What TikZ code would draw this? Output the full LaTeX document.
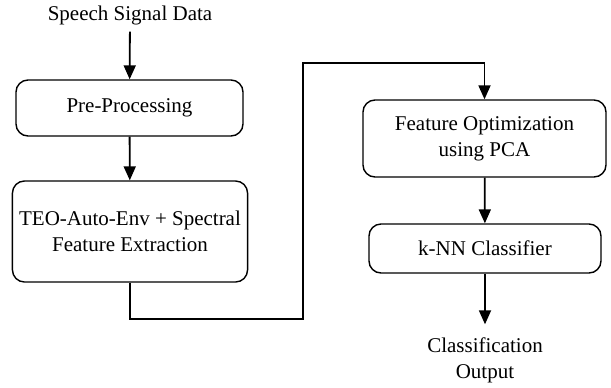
\documentclass[tikz,border=0pt]{standalone}
\usepackage{fontspec}
\setmainfont{Liberation Serif}
\usetikzlibrary{arrows.meta, positioning}

\begin{document}
\begin{tikzpicture}[x=0.5pt, y=-0.5pt,
        stepbox/.style={draw=black, line width=0.7pt, rounded corners=6pt, align=center, font=\fontsize{10.5}{13}\selectfont},
        plain/.style={align=center, font=\fontsize{10.5}{13}\selectfont},
        arr/.style={line width=0.9pt, -{Triangle[width=6pt, length=7pt]}}]
    \useasboundingbox (0, 0) rectangle (611, 387);

    \node[plain] (src) at (130, 15) {Speech Signal Data};
    \node[stepbox, minimum width=113.5pt, minimum height=28pt] (pre) at (129.5, 108) {Pre-Processing};
    \node[stepbox, minimum width=113pt, minimum height=50.5pt] (teo) at (130, 231.5) {TEO-Auto-Env + Spectral\\Feature Extraction};
    \node[stepbox, minimum width=121.5pt, minimum height=38.5pt] (fopt) at (484.5, 138.5) {Feature Optimization\\using PCA};
    \node[stepbox, minimum width=116pt, minimum height=24.5pt] (knn) at (485, 248.5) {k-NN Classifier};
    \node[plain] (out) at (485, 360) {Classification\\Output};

    \coordinate (low) at (303, 319);
    \coordinate (high) at (303, 63);

    \draw[arr] (src) -- (pre);
    \draw[arr] (pre) -- (teo);
    \draw[arr] (teo.south) |- (low) -- (high) -| (fopt.north);
    \draw[arr] (fopt) -- (knn);
    \draw[arr, shorten >=3pt] (knn) -- (out);
\end{tikzpicture}
\end{document}
